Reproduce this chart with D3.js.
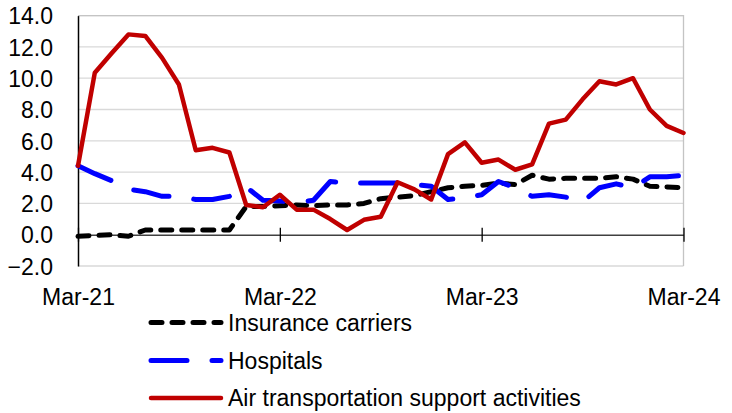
<!DOCTYPE html>
<html>
<head>
<meta charset="utf-8">
<script src="https://cdn.jsdelivr.net/npm/d3@7"></script>
<style>
  body { margin: 0; background: #fff; }
  text { font-family: "Liberation Sans", Arial, sans-serif; fill: #000; }
</style>
</head>
<body>
<div id="chart"></div>
<script>
// months, Mar-21 .. Mar-24
var months = ["Mar-21","Apr-21","May-21","Jun-21","Jul-21","Aug-21","Sep-21","Oct-21","Nov-21","Dec-21","Jan-22","Feb-22",
  "Mar-22","Apr-22","May-22","Jun-22","Jul-22","Aug-22","Sep-22","Oct-22","Nov-22","Dec-22","Jan-23","Feb-23",
  "Mar-23","Apr-23","May-23","Jun-23","Jul-23","Aug-23","Sep-23","Oct-23","Nov-23","Dec-23","Jan-24","Feb-24","Mar-24"];
var xTicks = ["Mar-21","Mar-22","Mar-23","Mar-24"];
var yTicks = [-2, 0, 2, 4, 6, 8, 10, 12, 14];

var insurance = [-0.1,-0.05,0.0,-0.1,0.3,0.3,0.3,0.3,0.3,0.3,1.8,1.8,
  1.85,1.9,1.85,1.9,1.9,2.0,2.3,2.4,2.5,2.75,3.0,3.1,
  3.15,3.3,3.2,3.8,3.55,3.6,3.6,3.6,3.7,3.55,3.1,3.05,3.0];
var hospitals = [4.4,3.9,3.45,2.9,2.75,2.45,2.45,2.25,2.25,2.45,3.05,2.2,
  2.15,2.05,2.2,3.4,3.3,3.3,3.3,3.3,3.2,3.1,2.25,2.35,
  2.55,3.4,3.0,2.45,2.55,2.4,2.1,3.0,3.25,3.0,3.7,3.7,3.8];
var airSupport = [4.4,10.35,11.6,12.8,12.7,11.3,9.6,5.4,5.55,5.25,1.9,1.75,
  2.55,1.6,1.6,1.0,0.3,0.95,1.15,3.35,2.9,2.25,5.15,5.9,
  4.6,4.8,4.15,4.5,7.1,7.35,8.65,9.8,9.6,10.0,8.0,6.95,6.5];

var series = [
  {name: "Insurance carriers", values: insurance, color: "#000000", width: 5, dash: "11,10", cap: "round"},
  {name: "Hospitals", values: hospitals, color: "#0000FF", width: 5, dash: "36,25", cap: "round"},
  {name: "Air transportation support activities", values: airSupport, color: "#C00000", width: 4.5, dash: null, cap: "round"}
];

var width = 732, height = 413;
var plotLeft = 78, plotRight = 683.5, plotTop = 15.6, plotBottom = 266;

var svg = d3.select("#chart").append("svg")
  .attr("width", width)
  .attr("height", height);

var x = d3.scalePoint().domain(months).range([plotLeft, plotRight]);
var y = d3.scaleLinear().domain([-2, 14]).range([plotBottom, plotTop]);

// gridlines
svg.append("g")
  .selectAll("line")
  .data(yTicks.filter(d => d !== 0))
  .join("line")
  .attr("x1", plotLeft).attr("x2", plotRight)
  .attr("y1", d => y(d)).attr("y2", d => y(d))
  .attr("stroke", "#d9d9d9")
  .attr("stroke-width", 1.3);

// plot area border (top, right)
svg.append("path")
  .attr("d", "M" + plotLeft + "," + plotTop + "H" + plotRight + "V" + plotBottom)
  .attr("fill", "none")
  .attr("stroke", "#c4c4c4")
  .attr("stroke-width", 1.3);

// y axis
var yAxis = svg.append("g")
  .attr("transform", "translate(" + plotLeft + ",0)")
  .call(d3.axisLeft(y).tickValues(yTicks).tickSize(0).tickPadding(25).tickFormat(d3.format(".1f")));
yAxis.select(".domain").attr("stroke", "#000").attr("stroke-width", 1.5);
yAxis.selectAll("text").attr("font-size", 23).attr("dy", "0.36em");

// x axis at zero
var xAxis = svg.append("g")
  .attr("transform", "translate(0," + y(0) + ")")
  .call(d3.axisBottom(x).tickValues(xTicks).tickSizeOuter(0));
xAxis.select(".domain").attr("stroke", "#404040").attr("stroke-width", 1.5);
xAxis.selectAll(".tick line")
  .attr("y1", -7).attr("y2", 7)
  .attr("stroke", "#000").attr("stroke-width", 1.3);
xAxis.selectAll(".tick text")
  .attr("font-size", 23)
  .attr("y", 297 - y(0))
  .attr("dy", "0.36em");

// lines
var line = d3.line()
  .x((d, i) => x(months[i]))
  .y(d => y(d));

svg.append("g")
  .selectAll("path")
  .data(series)
  .join("path")
  .attr("fill", "none")
  .attr("stroke", d => d.color)
  .attr("stroke-width", d => d.width)
  .attr("stroke-dasharray", d => d.dash)
  .attr("stroke-linecap", d => d.cap)
  .attr("stroke-linejoin", "round")
  .attr("d", d => line(d.values));

// legend
var legendY = [322.5, 360.5, 398];
var legend = svg.append("g")
  .selectAll("g")
  .data(series)
  .join("g")
  .attr("transform", (d, i) => "translate(0," + legendY[i] + ")");

legend.append("line")
  .attr("x1", 151).attr("x2", 221)
  .attr("stroke", d => d.color)
  .attr("stroke-width", d => d.width)
  .attr("stroke-dasharray", d => d.dash)
  .attr("stroke-linecap", d => d.cap);

legend.append("text")
  .attr("x", 228)
  .attr("dy", "0.36em")
  .attr("font-size", 23)
  .text(d => d.name);
</script>
</body>
</html>
